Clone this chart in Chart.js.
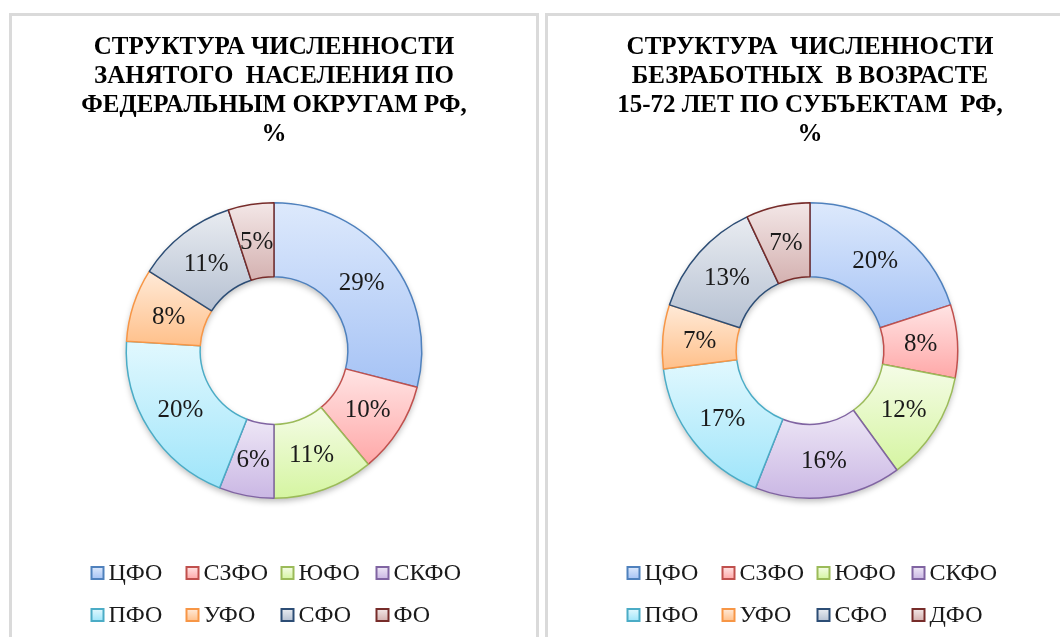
<!DOCTYPE html>
<html lang="ru">
<head>
<meta charset="utf-8">
<title>Структура численности по федеральным округам</title>
<script src="https://cdn.jsdelivr.net/npm/chart.js@4.4.1/dist/chart.umd.min.js"></script>
<style>
  html, body { margin: 0; padding: 0; background: #fff; overflow: hidden; }
  .panel { position: absolute; top: 13px; width: 524px; height: 640px; border: 3px solid #dadada; background: #fff; }
  #p1 { left: 9px; }
  #p2 { left: 545px; }
  canvas { display: block; }
</style>
</head>
<body>
<div class="panel" id="p1"><canvas id="c1" width="524" height="621"></canvas></div>
<div class="panel" id="p2"><canvas id="c2" width="524" height="621"></canvas></div>
<script>
// --- Данные ---
const labelsEmployed = ['ЦФО', 'СЗФО', 'ЮФО', 'СКФО', 'ПФО', 'УФО', 'СФО', 'ФО'];
const valuesEmployed = [29, 10, 11, 6, 20, 8, 11, 5];
const titleEmployed = ['СТРУКТУРА ЧИСЛЕННОСТИ', 'ЗАНЯТОГО  НАСЕЛЕНИЯ ПО', 'ФЕДЕРАЛЬНЫМ ОКРУГАМ РФ,', '%'];

const labelsUnemployed = ['ЦФО', 'СЗФО', 'ЮФО', 'СКФО', 'ПФО', 'УФО', 'СФО', 'ДФО'];
const valuesUnemployed = [20, 8, 12, 16, 17, 7, 13, 7];
const titleUnemployed = ['СТРУКТУРА  ЧИСЛЕННОСТИ', 'БЕЗРАБОТНЫХ  В ВОЗРАСТЕ', '15-72 ЛЕТ ПО СУБЪЕКТАМ  РФ,', '%'];

// --- Цвета (градиент сверху вниз + обводка) ---
const topColors    = ['#dde9fc', '#ffe4e4', '#f5fce7', '#eee7f6', '#e1f8fe', '#ffead8', '#e9ecf1', '#f3e7e7'];
const bottomColors = ['#a6c3f5', '#ffa8a8', '#d5f5a1', '#cab7e4', '#9fe5fa', '#ffc08a', '#b6c1d2', '#d4b1b0'];
const borderColors = ['#4f81bd', '#c0504d', '#9bbb59', '#8064a2', '#4bacc6', '#f79646', '#2c4d75', '#772c2a'];

const SERIF = '"Liberation Serif", "Times New Roman", serif';

// вертикальный градиент по габаритам сектора
function sliceFill(c) {
  const i = c.dataIndex;
  const chart = c.chart;
  const area = chart.chartArea;
  const ctrl = chart.getDatasetMeta(0).controller;
  if (!area || !(ctrl.outerRadius > 0)) return topColors[i];
  const data = c.dataset.data;
  const total = data.reduce((a, b) => a + b, 0);
  let before = 0;
  for (let k = 0; k < i; k++) before += data[k];
  const a0 = -Math.PI / 2 + before / total * Math.PI * 2;
  const a1 = a0 + data[i] / total * Math.PI * 2;
  const cy = (area.top + area.bottom) / 2;
  let minY = Infinity, maxY = -Infinity;
  for (let k = 0; k <= 60; k++) {
    const a = a0 + (a1 - a0) * k / 60;
    [ctrl.outerRadius, ctrl.innerRadius].forEach(r => {
      const y = cy + r * Math.sin(a);
      minY = Math.min(minY, y); maxY = Math.max(maxY, y);
    });
  }
  const g = chart.ctx.createLinearGradient(0, minY, 0, maxY);
  g.addColorStop(0, topColors[i]);
  g.addColorStop(1, bottomColors[i]);
  return g;
}

// мягкая тень под кольцом
const ringShadow = {
  id: 'ringShadow',
  beforeDatasetsDraw(chart) {
    const arc = chart.getDatasetMeta(0).data[0];
    if (!arc) return;
    const ctx = chart.ctx;
    ctx.save();
    ctx.shadowColor = 'rgba(0,0,0,0.28)';
    ctx.shadowBlur = 6;
    ctx.shadowOffsetY = 3;
    ctx.fillStyle = '#fff';
    ctx.beginPath();
    ctx.arc(arc.x, arc.y, arc.outerRadius, 0, Math.PI * 2);
    ctx.arc(arc.x, arc.y, arc.innerRadius, 0, Math.PI * 2, true);
    ctx.fill();
    ctx.restore();
  }
};

// подписи процентов в центре секторов
const sliceLabels = {
  id: 'sliceLabels',
  afterDatasetsDraw(chart) {
    const ctx = chart.ctx;
    const ds = chart.data.datasets[0];
    ctx.save();
    ctx.font = '25px ' + SERIF;
    ctx.fillStyle = '#1a1a1a';
    ctx.textAlign = 'center';
    ctx.textBaseline = 'middle';
    chart.getDatasetMeta(0).data.forEach((arc, i) => {
      const p = arc.tooltipPosition();
      ctx.fillText(ds.data[i] + '%', p.x, p.y + 1);
    });
    ctx.restore();
  }
};

// легенда в две строки с выровненными колонками
const gridLegend = {
  id: 'gridLegend',
  afterDraw(chart) {
    const ctx = chart.ctx;
    const area = chart.chartArea;
    const cx = (area.left + area.right) / 2;
    const labels = chart.data.labels;
    ctx.save();
    ctx.font = '24px ' + SERIF;
    ctx.fillStyle = '#1a1a1a';
    ctx.textBaseline = 'middle';
    labels.forEach((text, i) => {
      const col = i % 4, row = Math.floor(i / 4);
      const x = cx - 182.5 + col * 95;
      const y = area.bottom + 74 + row * 42;
      const g = ctx.createLinearGradient(0, y - 6, 0, y + 6);
      g.addColorStop(0, topColors[i]);
      g.addColorStop(1, bottomColors[i]);
      ctx.fillStyle = g;
      ctx.fillRect(x, y - 6, 12, 12);
      ctx.strokeStyle = borderColors[i];
      ctx.lineWidth = 2;
      ctx.strokeRect(x, y - 6, 12, 12);
      ctx.fillStyle = '#1a1a1a';
      ctx.fillText(text, x + 17, y + 1);
    });
    ctx.restore();
  }
};

function makeDonut(id, labels, values, title) {
  return new Chart(document.getElementById(id), {
    type: 'doughnut',
    data: {
      labels: labels,
      datasets: [{
        data: values,
        backgroundColor: sliceFill,
        borderColor: borderColors,
        borderWidth: 1.5,
        hoverOffset: 0
      }]
    },
    options: {
      responsive: false,
      animation: false,
      cutout: '50%',
      layout: { padding: { bottom: 138 } },
      plugins: {
        legend: { display: false },
        tooltip: { enabled: false },
        title: {
          display: true,
          text: title,
          color: '#000',
          font: { family: SERIF, size: 25, weight: 'bold', lineHeight: 1.16 },
          padding: { top: 17, bottom: 53 }
        }
      }
    },
    plugins: [ringShadow, sliceLabels, gridLegend]
  });
}

makeDonut('c1', labelsEmployed, valuesEmployed, titleEmployed);
makeDonut('c2', labelsUnemployed, valuesUnemployed, titleUnemployed);
</script>
</body>
</html>
